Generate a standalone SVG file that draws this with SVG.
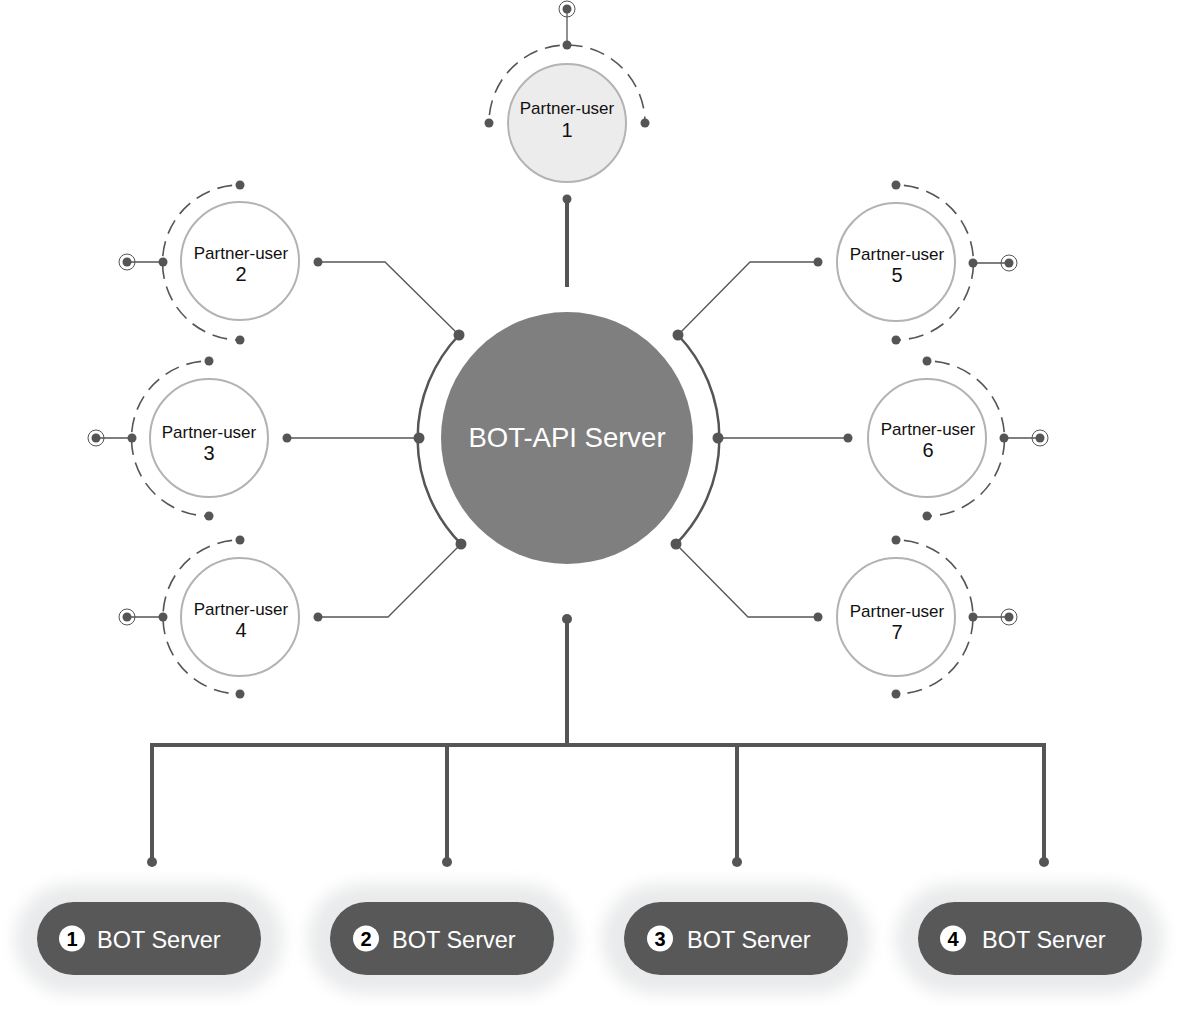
<svg xmlns="http://www.w3.org/2000/svg" width="1180" height="1018" viewBox="0 0 1180 1018">
<defs>
<style>
.pc{fill:#fff;stroke:#b3b3b3;stroke-width:2}
.pc1{fill:#ececec;stroke:#b3b3b3;stroke-width:2}
.dash{fill:none;stroke:#555;stroke-width:1.6;stroke-dasharray:15 8;stroke-dashoffset:15}
.thin{fill:none;stroke:#555;stroke-width:1.3}
.mid{fill:none;stroke:#555;stroke-width:2.5}
.thick{fill:none;stroke:#555;stroke-width:4}
.dot{fill:#555}
.ring{fill:none;stroke:#555;stroke-width:1}
.lbl{font-family:"Liberation Sans",Arial,sans-serif;font-size:17px;fill:#111;text-anchor:middle}
.num{font-family:"Liberation Sans",Arial,sans-serif;font-size:20px;fill:#111;text-anchor:middle}
.big{font-family:"Liberation Sans",Arial,sans-serif;font-size:27.5px;fill:#fff;text-anchor:middle}
.pill{fill:#585858}
.glow{fill:#e9eaeb}
.bt{font-family:"Liberation Sans",Arial,sans-serif;font-size:23.5px;fill:#fff}
.ic{fill:#fff}
.it{font-family:"Liberation Sans",Arial,sans-serif;font-size:20px;font-weight:bold;fill:#000;text-anchor:middle}
</style>
<filter id="blur" x="-30%" y="-50%" width="160%" height="200%"><feGaussianBlur stdDeviation="8"/></filter>
</defs>

<g id="connectors">
<line class="thick" x1="567" y1="199" x2="567" y2="287"/>
<circle class="dot" cx="567" cy="199" r="4.5"/>
<path class="mid" d="M459,335 A150 150 0 0 0 461,544"/>
<path class="mid" d="M678,335 A150 150 0 0 1 676,544"/>
<polyline class="thin" points="318,262 385,262 459,335"/>
<polyline class="thin" points="287,438 419,438"/>
<polyline class="thin" points="318,617 388,617 461,544"/>
<polyline class="thin" points="818,262 750,262 678,335"/>
<polyline class="thin" points="848,438 718,438"/>
<polyline class="thin" points="818,617 748,617 676,544"/>
<circle class="dot" cx="318" cy="262" r="4.5"/>
<circle class="dot" cx="287" cy="438" r="4.5"/>
<circle class="dot" cx="318" cy="617" r="4.5"/>
<circle class="dot" cx="818" cy="262" r="4.5"/>
<circle class="dot" cx="848" cy="438" r="4.5"/>
<circle class="dot" cx="818" cy="617" r="4.5"/>
<circle class="dot" cx="459" cy="335" r="5.5"/>
<circle class="dot" cx="419" cy="438" r="5.5"/>
<circle class="dot" cx="461" cy="544" r="5.5"/>
<circle class="dot" cx="678" cy="335" r="5.5"/>
<circle class="dot" cx="718" cy="438" r="5.5"/>
<circle class="dot" cx="676" cy="544" r="5.5"/>
<line class="thick" x1="567" y1="619" x2="567" y2="745"/>
<polyline class="thick" points="152,862 152,745 1044,745 1044,862"/>
<line class="thick" x1="447" y1="745" x2="447" y2="862"/>
<line class="thick" x1="737" y1="745" x2="737" y2="862"/>
<circle class="dot" cx="567" cy="619" r="5"/>
<circle class="dot" cx="152" cy="862" r="5"/>
<circle class="dot" cx="447" cy="862" r="5"/>
<circle class="dot" cx="737" cy="862" r="5"/>
<circle class="dot" cx="1044" cy="862" r="5"/>
</g>

<g id="bot-api-server">
<circle cx="567" cy="438" r="126" fill="#7f7f7f"/>
<text class="big" x="567" y="447">BOT-API Server</text>
</g>

<g id="partner-user-1">
<path class="dash" d="M489,123 A78 78 0 0 1 645,123"/>
<line class="thin" x1="567" y1="9" x2="567" y2="45"/>
<circle class="ring" cx="567" cy="9" r="8"/>
<circle class="dot" cx="567" cy="9" r="4.5"/>
<circle class="dot" cx="567" cy="45" r="4.5"/>
<circle class="dot" cx="489" cy="123" r="4.5"/>
<circle class="dot" cx="645" cy="123" r="4.5"/>
<circle class="pc1" cx="567" cy="123" r="59"/>
<text class="lbl" x="567" y="114">Partner-user</text>
<text class="num" x="567" y="137">1</text>
</g>

<g id="partner-user-2">
<path class="dash" d="M240,185 A77 77 0 0 0 240,340"/>
<line class="thin" x1="127" y1="262" x2="163" y2="262"/>
<circle class="ring" cx="127" cy="262" r="8"/>
<circle class="dot" cx="127" cy="262" r="4.5"/>
<circle class="dot" cx="163" cy="262" r="4.5"/>
<circle class="dot" cx="240" cy="185" r="4.5"/>
<circle class="dot" cx="240" cy="340" r="4.5"/>
<circle class="pc" cx="240" cy="261" r="59"/>
<text class="lbl" x="241" y="259">Partner-user</text>
<text class="num" x="241" y="281">2</text>
</g>

<g id="partner-user-3">
<path class="dash" d="M209,361 A77 77 0 0 0 209,516"/>
<line class="thin" x1="96" y1="438" x2="132" y2="438"/>
<circle class="ring" cx="96" cy="438" r="8"/>
<circle class="dot" cx="96" cy="438" r="4.5"/>
<circle class="dot" cx="132" cy="438" r="4.5"/>
<circle class="dot" cx="209" cy="361" r="4.5"/>
<circle class="dot" cx="209" cy="516" r="4.5"/>
<circle class="pc" cx="209" cy="438" r="59"/>
<text class="lbl" x="209" y="438">Partner-user</text>
<text class="num" x="209" y="460">3</text>
</g>

<g id="partner-user-4">
<path class="dash" d="M240,540 A77 77 0 0 0 240,694"/>
<line class="thin" x1="127" y1="617" x2="163" y2="617"/>
<circle class="ring" cx="127" cy="617" r="8"/>
<circle class="dot" cx="127" cy="617" r="4.5"/>
<circle class="dot" cx="163" cy="617" r="4.5"/>
<circle class="dot" cx="240" cy="540" r="4.5"/>
<circle class="dot" cx="240" cy="694" r="4.5"/>
<circle class="pc" cx="240" cy="617" r="59"/>
<text class="lbl" x="241" y="615">Partner-user</text>
<text class="num" x="241" y="637">4</text>
</g>

<g id="partner-user-5">
<path class="dash" d="M896,185 A77 77 0 0 1 896,340"/>
<line class="thin" x1="973" y1="263" x2="1009" y2="263"/>
<circle class="ring" cx="1009" cy="263" r="8"/>
<circle class="dot" cx="1009" cy="263" r="4.5"/>
<circle class="dot" cx="973" cy="263" r="4.5"/>
<circle class="dot" cx="896" cy="185" r="4.5"/>
<circle class="dot" cx="896" cy="340" r="4.5"/>
<circle class="pc" cx="896" cy="262" r="59"/>
<text class="lbl" x="897" y="260">Partner-user</text>
<text class="num" x="897" y="282">5</text>
</g>

<g id="partner-user-6">
<path class="dash" d="M927,361 A77 77 0 0 1 927,516"/>
<line class="thin" x1="1004" y1="438" x2="1040" y2="438"/>
<circle class="ring" cx="1040" cy="438" r="8"/>
<circle class="dot" cx="1040" cy="438" r="4.5"/>
<circle class="dot" cx="1004" cy="438" r="4.5"/>
<circle class="dot" cx="927" cy="361" r="4.5"/>
<circle class="dot" cx="927" cy="516" r="4.5"/>
<circle class="pc" cx="927" cy="438" r="59"/>
<text class="lbl" x="928" y="435">Partner-user</text>
<text class="num" x="928" y="457">6</text>
</g>

<g id="partner-user-7">
<path class="dash" d="M896,540 A77 77 0 0 1 896,694"/>
<line class="thin" x1="973" y1="617" x2="1009" y2="617"/>
<circle class="ring" cx="1009" cy="617" r="8"/>
<circle class="dot" cx="1009" cy="617" r="4.5"/>
<circle class="dot" cx="973" cy="617" r="4.5"/>
<circle class="dot" cx="896" cy="540" r="4.5"/>
<circle class="dot" cx="896" cy="694" r="4.5"/>
<circle class="pc" cx="896" cy="617" r="59"/>
<text class="lbl" x="897" y="617">Partner-user</text>
<text class="num" x="897" y="639">7</text>
</g>

<g id="bot-server-1">
<rect class="glow" x="15" y="884" width="268" height="110" rx="55" filter="url(#blur)"/>
<rect class="pill" x="37" y="902" width="224" height="73" rx="36.5"/>
<circle class="ic" cx="72" cy="938.5" r="13"/>
<text class="it" x="72" y="945.5">1</text>
<text class="bt" x="97" y="948">BOT Server</text>
</g>
<g id="bot-server-2">
<rect class="glow" x="308" y="884" width="268" height="110" rx="55" filter="url(#blur)"/>
<rect class="pill" x="330" y="902" width="224" height="73" rx="36.5"/>
<circle class="ic" cx="366" cy="938.5" r="13"/>
<text class="it" x="366" y="945.5">2</text>
<text class="bt" x="392" y="948">BOT Server</text>
</g>
<g id="bot-server-3">
<rect class="glow" x="602" y="884" width="268" height="110" rx="55" filter="url(#blur)"/>
<rect class="pill" x="624" y="902" width="224" height="73" rx="36.5"/>
<circle class="ic" cx="660" cy="938.5" r="13"/>
<text class="it" x="660" y="945.5">3</text>
<text class="bt" x="687" y="948">BOT Server</text>
</g>
<g id="bot-server-4">
<rect class="glow" x="896" y="884" width="268" height="110" rx="55" filter="url(#blur)"/>
<rect class="pill" x="918" y="902" width="224" height="73" rx="36.5"/>
<circle class="ic" cx="953" cy="938.5" r="13"/>
<text class="it" x="953" y="945.5">4</text>
<text class="bt" x="982" y="948">BOT Server</text>
</g>
</svg>
